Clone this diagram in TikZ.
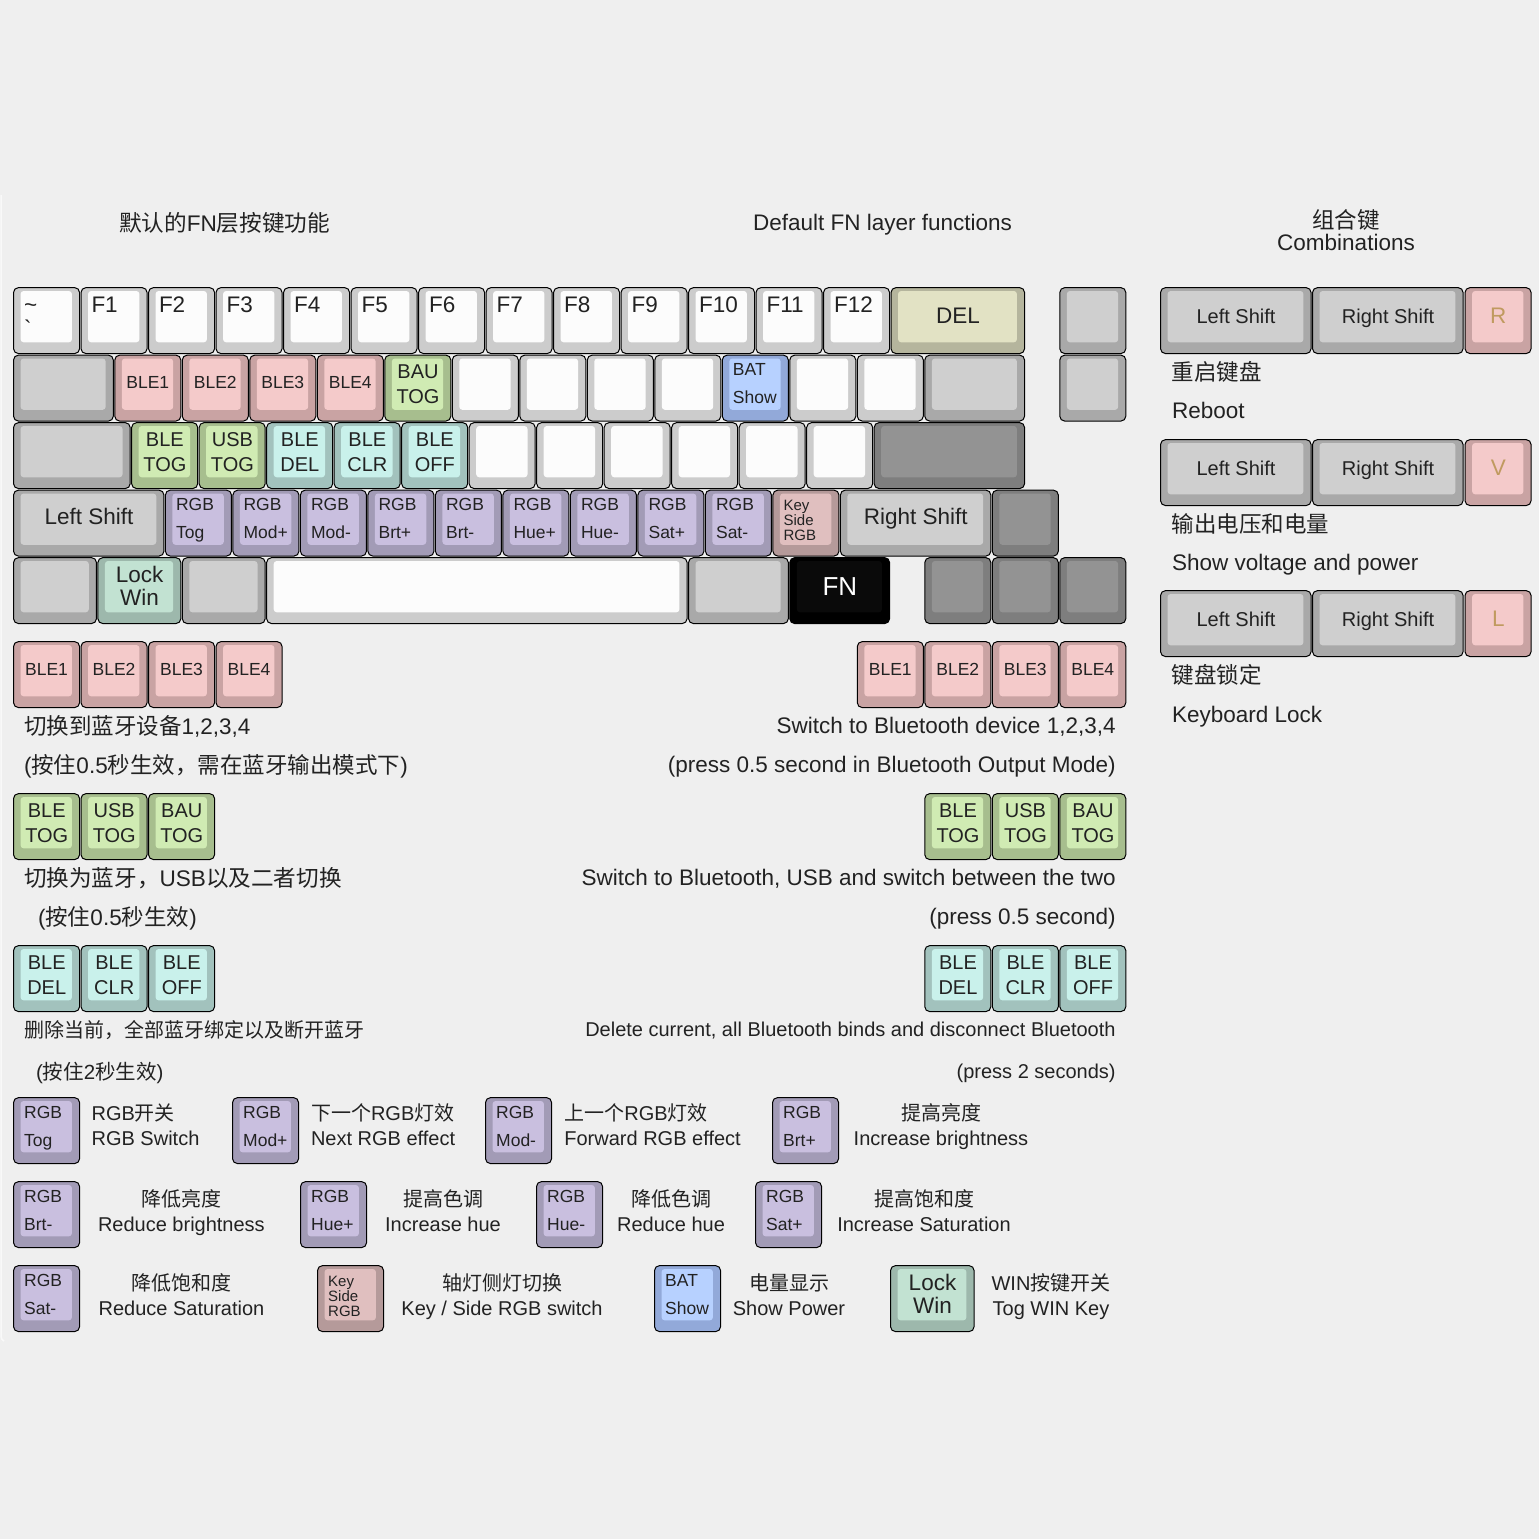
\documentclass[tikz,border=0pt]{standalone}
\usepackage{fontspec}
\setmainfont{Liberation Sans}
\newfontfamily\cjk{Noto Sans CJK SC}
\newcommand\Zh[1]{{\cjk #1}}
\definecolor{bgc}{HTML}{EFEFEF}
\definecolor{txt}{HTML}{222222}
\definecolor{tan}{HTML}{C09A60}
\definecolor{whiteB}{HTML}{CCCCCC}\definecolor{whiteT}{HTML}{FCFCFC}
\definecolor{grayB}{HTML}{A9A9A9}\definecolor{grayT}{HTML}{CFCFCF}
\definecolor{darkB}{HTML}{7E7E7E}\definecolor{darkT}{HTML}{939393}
\definecolor{pinkB}{HTML}{C9A3A3}\definecolor{pinkT}{HTML}{F4CACA}
\definecolor{limeB}{HTML}{A7BE8E}\definecolor{limeT}{HTML}{D0EBB3}
\definecolor{aquaB}{HTML}{A2C2BD}\definecolor{aquaT}{HTML}{C9F1EB}
\definecolor{lilaB}{HTML}{A29BB6}\definecolor{lilaT}{HTML}{C9BFDF}
\definecolor{roseB}{HTML}{B59A9A}\definecolor{roseT}{HTML}{E0BFBF}
\definecolor{blueB}{HTML}{92A9D9}\definecolor{blueT}{HTML}{B7D1FF}
\definecolor{mintB}{HTML}{9DB8AC}\definecolor{mintT}{HTML}{C2E2D2}
\definecolor{sandB}{HTML}{B5B59D}\definecolor{sandT}{HTML}{E2E2C4}
\definecolor{blackB}{HTML}{000000}\definecolor{blackT}{HTML}{0A0A0A}
\tikzset{
  capb/.style={draw=black,line width=1pt,rounded corners=5pt,inner sep=0pt,outer sep=0pt,anchor=north west,minimum height=66pt},
  capt/.style={draw=none,rounded corners=3pt,inner sep=0pt,outer sep=0pt,anchor=north west,minimum height=51.3pt},
  lab/.style={inner sep=0pt,outer sep=0pt,text=txt}
}
\newcount\lgc
\newcommand\Fsz[1]{\fontsize{#1}{#1}\selectfont}
% name, x, y, width, colour, legends
\newcommand\kk[6]{%
  \node[capb,fill=#5B,minimum width={(#4-1.4)*1pt}] (#1) at ({#2+0.5},{#3+0.6}) {};
  \node[capt,fill=#5T,minimum width={(#4-16.2)*1pt}] (#1t) at ({#2+7.6},{#3+4}) {};
  \def\kx{#2}\def\ky{#3}\def\kw{#4}%
  #6}
\newcommand\ku[6]{\kk{#1}{13+67.5*#2}{#3}{67.5*#4}{#5}{#6}}
% anchor, x, dy, size, text relative to key
\newcommand\legd[6][txt]{\global\advance\lgc by 1
  \node[lab,text=#1,anchor=#2] (lg\the\lgc) at ({#3},{\ky+#4}) {\Fsz{#5}#6};}
\newcommand\kTL[1]{\legd{base west}{\kx+11.2}{21}{17.5}{#1}}
\newcommand\kBL[1]{\legd{base west}{\kx+11.2}{49}{17.5}{#1}}
\newcommand\kFK[1]{\legd{base west}{\kx+11}{25}{22.5}{#1}}
\newcommand\kCS[1]{\legd{base}{\kx+\kw/2-0.2}{34.2}{17.5}{#1}}
\newcommand\kCB[2]{\legd{base}{\kx+\kw/2}{24}{20}{#1}\legd{base}{\kx+\kw/2}{49}{20}{#2}}
\newcommand\kLK[2]{\legd{base}{\kx+\kw/2}{25.2}{22.5}{#1}\legd{base}{\kx+\kw/2}{48.2}{22.5}{#2}}
\newcommand\kSide{\legd{base west}{\kx+11.2}{21}{15}{Key}\legd{base west}{\kx+11.2}{36}{15}{Side}\legd{base west}{\kx+11.2}{51}{15}{RGB}}
\newcommand\kRB[2]{\kTL{#1}\kBL{#2}}
% name, anchor, x, y, size, text
\newcommand\Tx[6]{\node[lab,anchor=#2] (#1) at (#3,#4) {\Fsz{#5}#6};}
\begin{document}
\begin{tikzpicture}[x=1pt,y=-1pt]
\useasboundingbox (0,0) rectangle (1539,1539);
\fill[bgc] (0,0) rectangle (1539,1539);
\draw[color=white!60!bgc,line width=1.5pt] (1,195) -- (1,1336) arc[start angle=180,end angle=120,radius=6];
% headers
\Tx{h1}{base west}{119}{231}{22.6}{\Zh{默认的}FN\Zh{层按键功能}}
\Tx{h2}{base west}{753}{230.4}{22.5}{Default FN layer functions}
\Tx{h3}{base}{1346}{228.6}{22.5}{\Zh{组合键}}
\Tx{h4}{base}{1346}{250}{22.5}{Combinations}
% row 1
\ku{ka}{0}{287}{1}{white}{\kFK{\textasciitilde}\legd{base west}{\kx+11}{49}{22.5}{\textasciigrave}}
\ku{kb}{1}{287}{1}{white}{\kFK{F1}}
\ku{kc}{2}{287}{1}{white}{\kFK{F2}}
\ku{kd}{3}{287}{1}{white}{\kFK{F3}}
\ku{ke}{4}{287}{1}{white}{\kFK{F4}}
\ku{kf}{5}{287}{1}{white}{\kFK{F5}}
\ku{kg}{6}{287}{1}{white}{\kFK{F6}}
\ku{kh}{7}{287}{1}{white}{\kFK{F7}}
\ku{ki}{8}{287}{1}{white}{\kFK{F8}}
\ku{kj}{9}{287}{1}{white}{\kFK{F9}}
\ku{kk}{10}{287}{1}{white}{\kFK{F10}}
\ku{kl}{11}{287}{1}{white}{\kFK{F11}}
\ku{km}{12}{287}{1}{white}{\kFK{F12}}
\ku{kn}{13}{287}{2}{sand}{\legd{base}{\kx+\kw/2}{36}{22.5}{DEL}}
\ku{ko}{15.5}{287}{1}{gray}{}
% row 2
\ku{la}{0}{354.5}{1.5}{gray}{}
\ku{lb}{1.5}{354.5}{1}{pink}{\kCS{BLE1}}
\ku{lc}{2.5}{354.5}{1}{pink}{\kCS{BLE2}}
\ku{ld}{3.5}{354.5}{1}{pink}{\kCS{BLE3}}
\ku{le}{4.5}{354.5}{1}{pink}{\kCS{BLE4}}
\ku{lf}{5.5}{354.5}{1}{lime}{\kCB{BAU}{TOG}}
\ku{lg}{6.5}{354.5}{1}{white}{}
\ku{lh}{7.5}{354.5}{1}{white}{}
\ku{li}{8.5}{354.5}{1}{white}{}
\ku{lj}{9.5}{354.5}{1}{white}{}
\ku{lk}{10.5}{354.5}{1}{blue}{\kRB{BAT}{Show}}
\ku{ll}{11.5}{354.5}{1}{white}{}
\ku{lm}{12.5}{354.5}{1}{white}{}
\ku{ln}{13.5}{354.5}{1.5}{gray}{}
\ku{lo}{15.5}{354.5}{1}{gray}{}
% row 3
\ku{ma}{0}{422}{1.75}{gray}{}
\ku{mb}{1.75}{422}{1}{lime}{\kCB{BLE}{TOG}}
\ku{mc}{2.75}{422}{1}{lime}{\kCB{USB}{TOG}}
\ku{md}{3.75}{422}{1}{aqua}{\kCB{BLE}{DEL}}
\ku{me}{4.75}{422}{1}{aqua}{\kCB{BLE}{CLR}}
\ku{mf}{5.75}{422}{1}{aqua}{\kCB{BLE}{OFF}}
\ku{mg}{6.75}{422}{1}{white}{}
\ku{mh}{7.75}{422}{1}{white}{}
\ku{mi}{8.75}{422}{1}{white}{}
\ku{mj}{9.75}{422}{1}{white}{}
\ku{mk}{10.75}{422}{1}{white}{}
\ku{ml}{11.75}{422}{1}{white}{}
\ku{mm}{12.75}{422}{2.25}{dark}{}
% row 4
\ku{na}{0}{489.5}{2.25}{gray}{\legd{base}{\kx+\kw/2}{35}{22.5}{Left Shift}}
\ku{nb}{2.25}{489.5}{1}{lila}{\kRB{RGB}{Tog}}
\ku{nc}{3.25}{489.5}{1}{lila}{\kRB{RGB}{Mod+}}
\ku{nd}{4.25}{489.5}{1}{lila}{\kRB{RGB}{Mod-}}
\ku{ne}{5.25}{489.5}{1}{lila}{\kRB{RGB}{Brt+}}
\ku{nf}{6.25}{489.5}{1}{lila}{\kRB{RGB}{Brt-}}
\ku{ng}{7.25}{489.5}{1}{lila}{\kRB{RGB}{Hue+}}
\ku{nh}{8.25}{489.5}{1}{lila}{\kRB{RGB}{Hue-}}
\ku{ni}{9.25}{489.5}{1}{lila}{\kRB{RGB}{Sat+}}
\ku{nj}{10.25}{489.5}{1}{lila}{\kRB{RGB}{Sat-}}
\ku{nk}{11.25}{489.5}{1}{rose}{\kSide}
\ku{nl}{12.25}{489.5}{2.25}{gray}{\legd{base}{\kx+\kw/2}{35}{22.5}{Right Shift}}
\ku{nm}{14.5}{489.5}{1}{dark}{}
% row 5
\ku{oa}{0}{557}{1.25}{gray}{}
\ku{ob}{1.25}{557}{1.25}{mint}{\kLK{Lock}{Win}}
\ku{oc}{2.5}{557}{1.25}{gray}{}
\ku{od}{3.75}{557}{6.25}{white}{}
\ku{oe}{10}{557}{1.5}{gray}{}
\ku{of}{11.5}{557}{1.5}{black}{\legd[white]{base}{\kx+\kw/2}{38}{26}{FN}}
\ku{og}{13.5}{557}{1}{dark}{}
\ku{oh}{14.5}{557}{1}{dark}{}
\ku{oi}{15.5}{557}{1}{dark}{}
% BLE
\ku{pa}{0}{641}{1}{pink}{\kCS{BLE1}}
\ku{pb}{1}{641}{1}{pink}{\kCS{BLE2}}
\ku{pc}{2}{641}{1}{pink}{\kCS{BLE3}}
\ku{pd}{3}{641}{1}{pink}{\kCS{BLE4}}
\ku{pe}{12.5}{641}{1}{pink}{\kCS{BLE1}}
\ku{pf}{13.5}{641}{1}{pink}{\kCS{BLE2}}
\ku{pg}{14.5}{641}{1}{pink}{\kCS{BLE3}}
\ku{ph}{15.5}{641}{1}{pink}{\kCS{BLE4}}
\Tx{ta}{base west}{24}{734}{22.5}{\Zh{切换到蓝牙设备}1,2,3,4}
\Tx{tb}{base west}{24}{773}{22.5}{(\Zh{按住}0.5\Zh{秒生效，需在蓝牙输出模式下})}
\Tx{tc}{base east}{1115.6}{733.4}{22.5}{Switch to Bluetooth device 1,2,3,4}
\Tx{td}{base east}{1115.6}{772.4}{22.5}{(press 0.5 second in Bluetooth Output Mode)}
% TOG
\ku{qa}{0}{793}{1}{lime}{\kCB{BLE}{TOG}}
\ku{qb}{1}{793}{1}{lime}{\kCB{USB}{TOG}}
\ku{qc}{2}{793}{1}{lime}{\kCB{BAU}{TOG}}
\ku{qd}{13.5}{793}{1}{lime}{\kCB{BLE}{TOG}}
\ku{qe}{14.5}{793}{1}{lime}{\kCB{USB}{TOG}}
\ku{qf}{15.5}{793}{1}{lime}{\kCB{BAU}{TOG}}
\Tx{te}{base west}{24}{886}{22.6}{\Zh{切换为蓝牙，}USB\Zh{以及二者切换}}
\Tx{tf}{base west}{38}{925}{22.5}{(\Zh{按住}0.5\Zh{秒生效})}
\Tx{tg}{base east}{1115.6}{885.4}{22.5}{Switch to Bluetooth, USB and switch between the two}
\Tx{th}{base east}{1115.6}{924.4}{22.5}{(press 0.5 second)}
% DEL
\ku{ra}{0}{945}{1}{aqua}{\kCB{BLE}{DEL}}
\ku{rb}{1}{945}{1}{aqua}{\kCB{BLE}{CLR}}
\ku{rc}{2}{945}{1}{aqua}{\kCB{BLE}{OFF}}
\ku{rd}{13.5}{945}{1}{aqua}{\kCB{BLE}{DEL}}
\ku{re}{14.5}{945}{1}{aqua}{\kCB{BLE}{CLR}}
\ku{rf}{15.5}{945}{1}{aqua}{\kCB{BLE}{OFF}}
\Tx{ti}{base west}{24}{1037}{20}{\Zh{删除当前，全部蓝牙绑定以及断开蓝牙}}
\Tx{tj}{base west}{36}{1079}{20.5}{(\Zh{按住}2\Zh{秒生效})}
\Tx{tk}{base east}{1115.6}{1036.6}{20}{Delete current, all Bluetooth binds and disconnect Bluetooth}
\Tx{tl}{base east}{1115.6}{1078.6}{20}{(press 2 seconds)}
% legend row A
\kk{sa}{13}{1097}{67.5}{lila}{\kRB{RGB}{Tog}}
\kk{sb}{232}{1097}{67.5}{lila}{\kRB{RGB}{Mod+}}
\kk{sc}{485}{1097}{67.5}{lila}{\kRB{RGB}{Mod-}}
\kk{sd}{772}{1097}{67.5}{lila}{\kRB{RGB}{Brt+}}
\Tx{ua}{base west}{91.6}{1120.6}{20}{RGB\Zh{开关}}
\Tx{ub}{base west}{91.6}{1145.4}{20}{RGB Switch}
\Tx{uc}{base west}{311}{1120.6}{20}{\Zh{下一个}RGB\Zh{灯效}}
\Tx{ud}{base west}{311}{1145.4}{20}{Next RGB effect}
\Tx{ue}{base west}{564.4}{1120.6}{20}{\Zh{上一个}RGB\Zh{灯效}}
\Tx{uf}{base west}{564.4}{1145.4}{20}{Forward RGB effect}
\Tx{ug}{base}{941}{1120.6}{20}{\Zh{提高亮度}}
\Tx{uh}{base}{941}{1145.4}{20}{Increase brightness}
% legend row B
\kk{va}{13}{1181}{67.5}{lila}{\kRB{RGB}{Brt-}}
\kk{vb}{300}{1181}{67.5}{lila}{\kRB{RGB}{Hue+}}
\kk{vc}{536}{1181}{67.5}{lila}{\kRB{RGB}{Hue-}}
\kk{vd}{755}{1181}{67.5}{lila}{\kRB{RGB}{Sat+}}
\Tx{wa}{base}{181.4}{1206}{20}{\Zh{降低亮度}}
\Tx{wb}{base}{181.4}{1231}{20}{Reduce brightness}
\Tx{wc}{base}{443}{1206}{20}{\Zh{提高色调}}
\Tx{wd}{base}{443}{1231}{20}{Increase hue}
\Tx{we}{base}{671}{1206}{20}{\Zh{降低色调}}
\Tx{wf}{base}{671}{1231}{20}{Reduce hue}
\Tx{wg}{base}{924}{1206}{20}{\Zh{提高饱和度}}
\Tx{wh}{base}{924}{1231}{20}{Increase Saturation}
% legend row C
\kk{xa}{13}{1265}{67.5}{lila}{\kRB{RGB}{Sat-}}
\kk{xb}{317}{1265}{67.5}{rose}{\kSide}
\kk{xc}{654}{1265}{67.5}{blue}{\kRB{BAT}{Show}}
\kk{xd}{890}{1265}{85}{mint}{\kLK{Lock}{Win}}
\Tx{ya}{base}{181.5}{1290}{20}{\Zh{降低饱和度}}
\Tx{yb}{base}{181.5}{1315}{20}{Reduce Saturation}
\Tx{yc}{base}{502}{1290}{20}{\Zh{轴灯侧灯切换}}
\Tx{yd}{base}{502}{1315}{20}{Key / Side RGB switch}
\Tx{ye}{base}{789}{1290}{20}{\Zh{电量显示}}
\Tx{yf}{base}{789}{1315}{20}{Show Power}
\Tx{yg}{base}{1051}{1290}{20}{WIN\Zh{按键开关}}
\Tx{yh}{base}{1051}{1315}{20}{Tog WIN Key}
% combinations
\kk{za}{1160}{287}{152}{gray}{\legd{base}{\kx+\kw/2}{36.6}{20}{Left Shift}}
\kk{zb}{1312}{287}{152}{gray}{\legd{base}{\kx+\kw/2}{36.6}{20}{Right Shift}}
\kk{zc}{1464.5}{287}{67.5}{pink}{\legd[tan]{base}{\kx+\kw/2}{36}{22.5}{R}}
\Tx{zd}{base west}{1171.5}{380}{22.5}{\Zh{重启键盘}}
\Tx{ze}{base west}{1172}{418.5}{22.5}{Reboot}
\kk{zf}{1160}{439}{152}{gray}{\legd{base}{\kx+\kw/2}{36.6}{20}{Left Shift}}
\kk{zg}{1312}{439}{152}{gray}{\legd{base}{\kx+\kw/2}{36.6}{20}{Right Shift}}
\kk{zh}{1464.5}{439}{67.5}{pink}{\legd[tan]{base}{\kx+\kw/2}{36}{22.5}{V}}
\Tx{zi}{base west}{1171.5}{532}{22.5}{\Zh{输出电压和电量}}
\Tx{zj}{base west}{1172}{570.5}{22.5}{Show voltage and power}
\kk{zk}{1160}{590}{152}{gray}{\legd{base}{\kx+\kw/2}{36.6}{20}{Left Shift}}
\kk{zl}{1312}{590}{152}{gray}{\legd{base}{\kx+\kw/2}{36.6}{20}{Right Shift}}
\kk{zm}{1464.5}{590}{67.5}{pink}{\legd[tan]{base}{\kx+\kw/2}{36}{22.5}{L}}
\Tx{zn}{base west}{1171.5}{683}{22.5}{\Zh{键盘锁定}}
\Tx{zo}{base west}{1172}{722}{22.5}{Keyboard Lock}
\end{tikzpicture}
\end{document}
